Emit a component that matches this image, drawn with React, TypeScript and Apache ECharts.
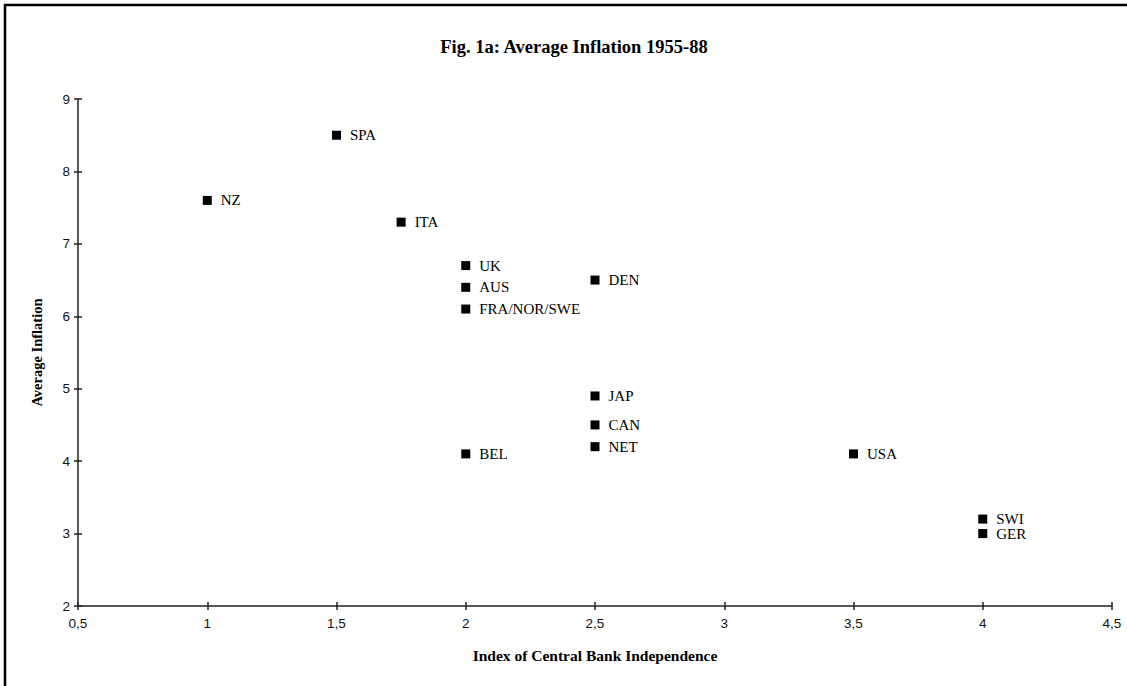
import React, { useEffect, useRef } from "react";
import * as echarts from "echarts";

const countries = ["SPA", "NZ", "ITA", "UK", "AUS", "FRA/NOR/SWE", "DEN", "JAP", "CAN", "NET", "BEL", "USA", "SWI", "GER"];
const independence = [1.5, 1, 1.75, 2, 2, 2, 2.5, 2.5, 2.5, 2.5, 2, 3.5, 4, 4];
const inflation = [8.5, 7.6, 7.3, 6.7, 6.4, 6.1, 6.5, 4.9, 4.5, 4.2, 4.1, 4.1, 3.2, 3.0];

const fmt = (v: number) => String(v).replace(".", ",");

export default function App() {
  const ref = useRef<HTMLDivElement>(null);
  useEffect(() => {
    if (!ref.current) return;
    const chart = echarts.init(ref.current, null, { renderer: "svg" });
    const data = countries.map((c, i) => ({ name: c, value: [independence[i], inflation[i]] }));
    const axisLabel = { fontFamily: "Liberation Sans, Arial, sans-serif", fontSize: 13.5, color: "#111" };
    const serif = "Liberation Serif, Times New Roman, serif";
    chart.setOption({
      animation: false,
      backgroundColor: "#fff",
      title: {
        text: "Fig. 1a: Average Inflation 1955-88",
        left: 569,
        top: 32,
        textAlign: "center",
        textStyle: { fontFamily: serif, fontWeight: "bold", fontSize: 18.5, color: "#000" },
      },
      graphic: [
        { type: "rect", shape: { x: 5, y: 5, width: 1400, height: 900 }, style: { fill: "none", stroke: "#000", lineWidth: 2.5 }, z: 100 },
      ],
      grid: { left: 78, right: 15, top: 99, bottom: 80 },
      xAxis: [
        {
          type: "value",
          min: 0.5,
          max: 4.5,
          interval: 0.5,
          splitLine: { show: false },
          axisLine: { onZero: false, lineStyle: { color: "#222", width: 1.5 } },
          axisTick: { show: true, inside: false, length: 4, lineStyle: { color: "#222", width: 1.5 } },
          axisLabel: { ...axisLabel, margin: 10, formatter: (v: number) => fmt(v) },
          name: "Index of Central Bank Independence",
          nameLocation: "middle",
          nameGap: 41,
          nameTextStyle: { fontFamily: serif, fontWeight: "bold", fontSize: 15.5, color: "#000" },
        },
        {
          type: "value",
          min: 0.5,
          max: 4.5,
          interval: 0.5,
          position: "bottom",
          splitLine: { show: false },
          axisLine: { show: false, onZero: false },
          axisTick: { show: true, inside: true, length: 4, lineStyle: { color: "#222", width: 1.5 } },
          axisLabel: { show: false },
        },
      ],
      yAxis: [
        {
          type: "value",
          min: 2,
          max: 9,
          interval: 1,
          splitLine: { show: false },
          axisLine: { show: true, onZero: false, lineStyle: { color: "#222", width: 1.5 } },
          axisTick: { show: true, inside: false, length: 4, lineStyle: { color: "#222", width: 1.5 } },
          axisLabel: { ...axisLabel, margin: 8 },
          name: "Average Inflation",
          nameLocation: "middle",
          nameGap: 34,
          nameTextStyle: { fontFamily: serif, fontWeight: "bold", fontSize: 14.5, color: "#000" },
        },
        {
          type: "value",
          min: 2,
          max: 9,
          interval: 1,
          position: "left",
          splitLine: { show: false },
          axisLine: { show: false, onZero: false },
          axisTick: { show: true, inside: true, length: 4, lineStyle: { color: "#222", width: 1.5 } },
          axisLabel: { show: false },
        },
      ],
      series: [
        {
          type: "scatter",
          xAxisIndex: 0,
          yAxisIndex: 0,
          symbol: "rect",
          symbolSize: 9,
          itemStyle: { color: "#000", opacity: 1 },
          data,
          label: {
            show: true,
            position: "right",
            distance: 9,
            formatter: (p: any) => p.name,
            fontFamily: serif,
            fontSize: 15,
            color: "#000",
          },
        },
      ],
    });
    return () => chart.dispose();
  }, []);
  return <div ref={ref} style={{ position: "fixed", left: 0, top: 0, width: 1127, height: 686 }} />;
}
